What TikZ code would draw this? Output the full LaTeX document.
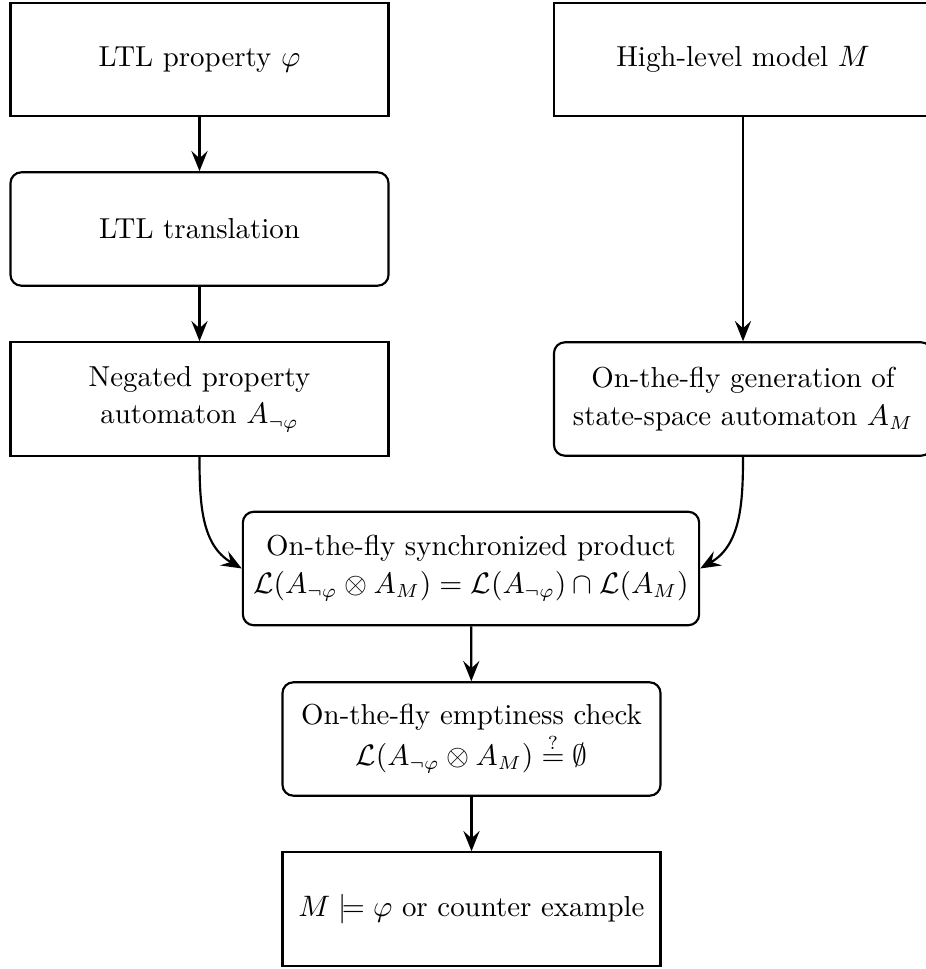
\documentclass[tikz,border=0pt]{standalone}
\usetikzlibrary{arrows.meta}
\begin{document}
\begin{tikzpicture}[x=0.37037pt,y=0.37037pt,
  font=\fontsize{10.7}{14}\selectfont,
  box/.style={draw, thick, align=center, minimum width=140pt, minimum height=42pt, inner sep=3pt},
  rbox/.style={box, rounded corners=4pt},
  flow/.style={thick, -{Stealth[length=7.5pt,width=6pt,inset=2.7pt]}}]
\useasboundingbox (0,0) rectangle (925,-969);
% left column: property side
\node[box]  (prop) at (199.5,-59.5) {LTL property $\varphi$};
\node[rbox] (trans) at (199.5,-229) {LTL translation};
\node[box]  (neg)  at (199.5,-399) {Negated property\\automaton $A_{\neg\varphi}$};
% right column: model side
\node[box]  (model) at (743,-59.5) {High-level model $M$};
\node[rbox] (gen)   at (743,-399) {On-the-fly generation of\\state-space automaton $A_M$};
% central chain
\node[rbox, minimum width=169pt] (prod) at (471,-568.5)
  {On-the-fly synchronized product\\$\mathcal{L}(A_{\neg\varphi}\otimes A_M)=\mathcal{L}(A_{\neg\varphi})\cap\mathcal{L}(A_M)$};
\node[rbox] (empty) at (471.5,-739)
  {On-the-fly emptiness check\\$\mathcal{L}(A_{\neg\varphi}\otimes A_M)\stackrel{?}{=}\emptyset$};
\node[box] (res) at (471.5,-909) {$M\models\varphi$ or counter example};
% connectors
\draw[flow] (prop) -- (trans);
\draw[flow] (trans) -- (neg);
\draw[flow] (model) -- (gen);
\draw[flow] (neg.south) to[out=-90, in=150] (prod.west);
\draw[flow] (gen.south) to[out=-90, in=30] (prod.east);
\draw[flow] (prod) -- (empty);
\draw[flow] (empty) -- (res);
\end{tikzpicture}
\end{document}
